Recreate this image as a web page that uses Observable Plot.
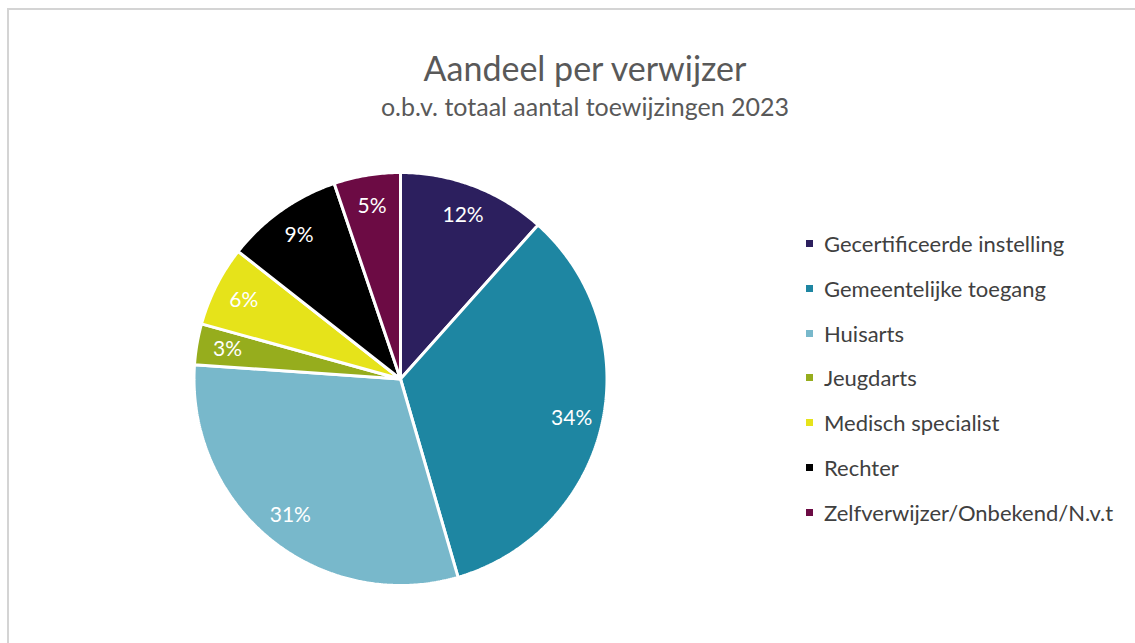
<!DOCTYPE html>
<html>
<head>
<meta charset="utf-8">
<script src="https://cdn.jsdelivr.net/npm/d3@7"></script>
<script src="https://cdn.jsdelivr.net/npm/@observablehq/plot@0.6"></script>
<style>
  html, body { margin: 0; padding: 0; background: #fff; }
  #wrap { position: relative; width: 1135px; height: 643px; overflow: hidden; font-family: Lato, "Open Sans", sans-serif; }
  #frame { position: absolute; left: 7px; top: 8px; width: 1140px; height: 650px; border-top: 2px solid #d4d4d4; border-left: 2px solid #d4d4d4; }
  #chart { position: absolute; left: 0; top: 0; }
  .title { position: absolute; left: 0; width: 1170px; text-align: center; color: #595959; line-height: 1.2; }
  #legend { position: absolute; left: 806px; top: 221px; }
  .item { display: flex; align-items: center; height: 44.83px; color: #404040; font-size: 22px; }
  .sw { width: 7px; height: 7px; margin-right: 11px; }
</style>
</head>
<body>
<div id="wrap">
  <div id="frame"></div>
  <div id="chart"></div>
  <div class="title" style="top:48px;font-size:34px;">Aandeel per verwijzer</div>
  <div class="title" style="top:90.5px;font-size:25px;">o.b.v. totaal aantal toewijzingen 2023</div>
  <div id="legend"></div>
</div>
<script>
const categories = ["Gecertificeerde instelling", "Gemeentelijke toegang", "Huisarts", "Jeugdarts", "Medisch specialist", "Rechter", "Zelfverwijzer/Onbekend/N.v.t"];
const values = [11.6, 33.9, 30.6, 3.2, 6.3, 9.2, 5.2];
const labels = ["12%", "34%", "31%", "3%", "6%", "9%", "5%"];
const colors = ["#2c1f5e", "#1e86a2", "#78b8cb", "#96ad1d", "#e6e31a", "#000000", "#6c0b44"];

const arcs = d3.pie().sort(null).value(d => d)(values);

const slicePts = [];
arcs.forEach((a, i) => {
  const cat = categories[i];
  slicePts.push({cat, x: 0, y: 0});
  const n = Math.max(2, Math.ceil((a.endAngle - a.startAngle) / 0.01));
  for (let k = 0; k <= n; k++) {
    const t = a.startAngle + (a.endAngle - a.startAngle) * k / n;
    slicePts.push({cat, x: Math.sin(t), y: Math.cos(t)});
  }
});

const labelData = arcs.map((a, i) => {
  const m = (a.startAngle + a.endAngle) / 2;
  const r = 0.85;
  return {text: labels[i], x: r * Math.sin(m), y: r * Math.cos(m)};
});

const W = 1135, H = 643;
const cx = 400, cy = 378.5, R = 206.5;

const plot = Plot.plot({
  width: W,
  height: H,
  marginLeft: cx - R,
  marginRight: W - (cx + R),
  marginTop: cy - R,
  marginBottom: H - (cy + R),
  x: {domain: [-1, 1], axis: null},
  y: {domain: [-1, 1], axis: null},
  color: {domain: categories, range: colors},
  style: {background: "transparent", fontFamily: "Lato, 'Open Sans', sans-serif"},
  marks: [
    Plot.line(slicePts, {x: "x", y: "y", z: "cat", fill: "cat", stroke: "white", strokeWidth: 3, strokeLinejoin: "miter", curve: "linear-closed"}),
    Plot.text(labelData, {x: "x", y: "y", text: "text", fill: "white", fontSize: 21, fontFamily: "Lato, 'Open Sans', sans-serif"})
  ]
});
document.getElementById("chart").appendChild(plot);

const legend = document.getElementById("legend");
const color = plot.scale("color");
categories.forEach((c, i) => {
  const it = document.createElement("div");
  it.className = "item";
  const sw = document.createElement("div");
  sw.className = "sw";
  sw.style.background = color.range[i];
  const tx = document.createElement("span");
  tx.textContent = c;
  it.appendChild(sw);
  it.appendChild(tx);
  legend.appendChild(it);
});
</script>
</body>
</html>
